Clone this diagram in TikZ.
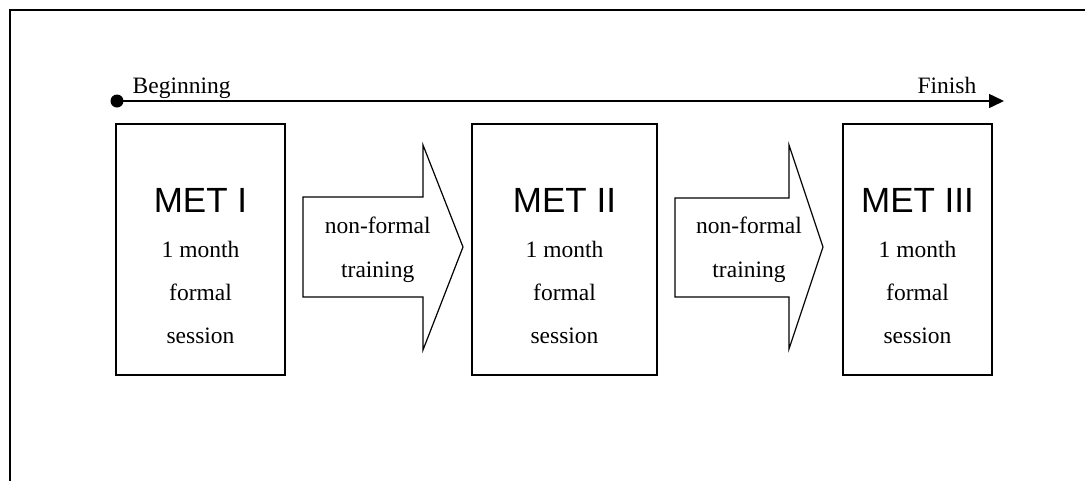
\documentclass[tikz,border=0pt]{standalone}
\usepackage{fontspec}
\setmainfont{Liberation Serif}
\newfontfamily\metfont{Liberation Sans}
\usetikzlibrary{arrows.meta}
\begin{document}
\begin{tikzpicture}[x=1pt,y=-1pt,
  stagebox/.style={draw, line width=1.5pt, minimum height=251pt, inner sep=0pt},
  sertext/.style={font=\fontsize{23.5}{28}\selectfont, anchor=base, inner sep=0pt},
  mettext/.style={font=\metfont\fontsize{35}{40}\selectfont, anchor=base, inner sep=0pt},
  blockarrow/.style={draw, line width=1.2pt, line join=miter},
  timeline/.style={line width=1.5pt, -{Triangle[length=15pt,width=14pt]}}
]
\useasboundingbox (0,0) rectangle (1085,480);
\begin{scope}
  \clip (0,0) rectangle (1085,480);
  \draw[line width=1.3pt] (10,10) rectangle (1100,500);
\end{scope}

% timeline
\node[circle, fill=black, inner sep=0pt, minimum size=13pt] (startdot) at (117,101) {};
\coordinate (finishpt) at (1004,101);
\draw[timeline] (startdot.center) -- (finishpt);
\node[sertext, anchor=base west] (beginning) at (132.5,93.3) {Beginning};
\node[sertext, anchor=base east] (finish) at (976.5,93.3) {Finish};

% stage boxes
\node[stagebox, minimum width=169pt] (met1) at (200.5,249.5) {};
\node[stagebox, minimum width=185pt] (met2) at (564.5,249.5) {};
\node[stagebox, minimum width=149pt] (met3) at (917.5,249.5) {};

\foreach \n/\x/\lab in {1/200.5/MET I, 2/564.5/MET II, 3/917.5/MET III}{
  \node[mettext] (title\n) at (\x,212) {\lab};
  \node[sertext] (month\n) at (\x,257) {1 month};
  \node[sertext] (formal\n) at (\x,300.5) {formal};
  \node[sertext] (session\n) at (\x,343.5) {session};
}

% block arrows
\draw[blockarrow] (303,197) -- (423,197) -- (423,145) -- (463,247) -- (423,350) -- (423,297) -- (303,297) -- cycle;
\node[sertext] (nf1) at (377.7,233) {non-formal};
\node[sertext] (tr1) at (377.7,277) {training};

\draw[blockarrow] (675,198) -- (789,198) -- (789,145) -- (823,247) -- (789,349) -- (789,297) -- (675,297) -- cycle;
\node[sertext] (nf2) at (749,233) {non-formal};
\node[sertext] (tr2) at (749,277) {training};
\end{tikzpicture}
\end{document}
